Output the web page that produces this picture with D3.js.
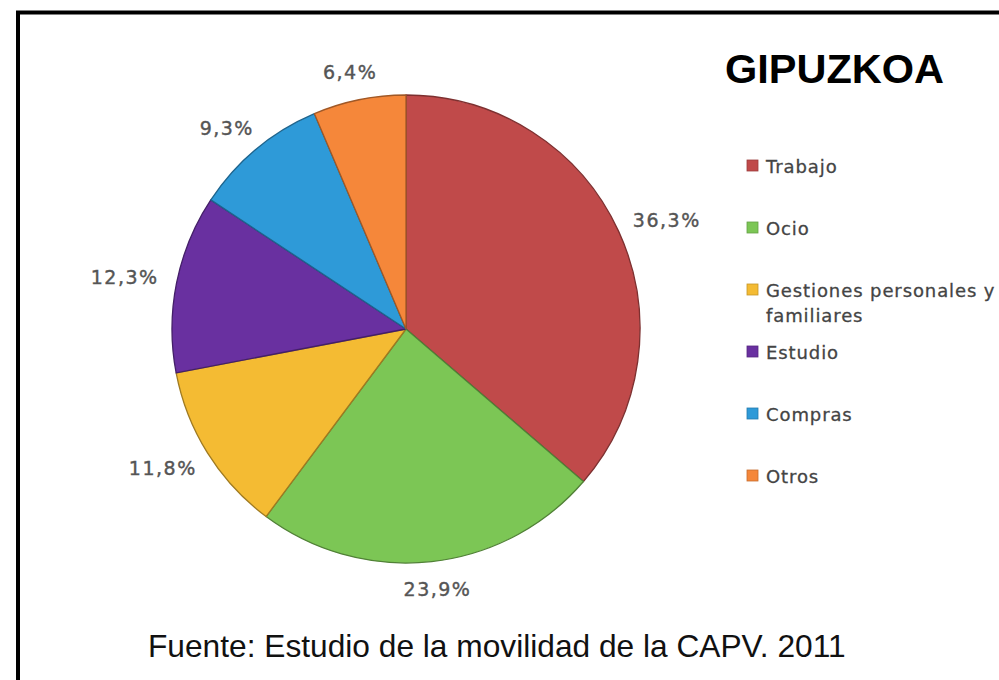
<!DOCTYPE html>
<html>
<head>
<meta charset="utf-8">
<script src="https://cdn.jsdelivr.net/npm/d3@7"></script>
<style>
body { margin: 0; background: #fff; }
</style>
</head>
<body>
<svg id="pie_chart" width="999" height="680"></svg>
<script>
// valores del gráfico
var categories = ["Trabajo", "Ocio", "Gestiones personales y familiares", "Estudio", "Compras", "Otros"];
var values = [36.3, 23.9, 11.8, 12.3, 9.3, 6.4];
var legendLines = [["Trabajo"], ["Ocio"], ["Gestiones personales y", "familiares"], ["Estudio"], ["Compras"], ["Otros"]];
var colors = ["#c04a4a", "#7cc655", "#f4bb33", "#6930a0", "#2e9ad8", "#f5873a"];

var title = "GIPUZKOA";
var source = "Fuente: Estudio de la movilidad de la CAPV. 2011";

function pie_chart() {
	var data = categories.map((c, i) => ({"Category": c, "Value": values[i], "Color": colors[i], "Lines": legendLines[i]}));

	var svg = d3.select("#pie_chart");

	var cx = 406, cy = 329, radius = 234;

	// marco negro
	svg.append("rect")
	.attr("x", 18)
	.attr("y", 12.5)
	.attr("width", 1000)
	.attr("height", 700)
	.attr("fill", "none")
	.attr("stroke", "#000")
	.attr("stroke-width", 4);

	var pie = d3.pie()
	.sort(null)
	.value(d => d.Value);

	var arc = d3.arc()
	.innerRadius(0)
	.outerRadius(radius);

	var arcs = pie(data);

	var g = svg.append("g")
	.attr("transform", `translate(${cx},${cy})`);

	g.selectAll(".slice")
	.data(arcs)
	.enter().append("path")
	.attr("class", "slice")
	.attr("d", arc)
	.attr("fill", d => d.data.Color)
	.attr("stroke", d => d3.color(d.data.Color).darker(1.2))
	.attr("stroke-width", 1.3)
	.attr("stroke-linejoin", "round");

	// etiquetas de porcentaje
	var fmt = d3.format(".1f");
	var pad = 19, hh = 9;

	var labels = g.selectAll(".labels")
	.data(arcs)
	.enter().append("text")
	.attr("class", "labels")
	.attr("text-anchor", "middle")
	.attr("dominant-baseline", "central")
	.style("font-family", "'DejaVu Sans', Verdana, sans-serif")
	.style("font-size", "19px")
	.style("letter-spacing", "1.5px")
	.attr("fill", "#555")
	.attr("stroke", "#555")
	.attr("stroke-width", 0.4)
	.text(d => fmt(d.data.Value).replace(".", ",") + "%");

	labels.each(function(d) {
		var a = (d.startAngle + d.endAngle) / 2;
		var hw = this.getComputedTextLength() / 2;
		var s = Math.sin(a), c = -Math.cos(a);
		var x = s * (radius + pad) + s * hw;
		var y = c * (radius + pad) + c * hh;
		d3.select(this).attr("x", x).attr("y", y);
	});

	// leyenda
	var legend = svg.selectAll(".legend")
	.data(data)
	.enter().append("g")
	.attr("class", "legend")
	.attr("transform", (d, i) => `translate(747,${166 + i * 62})`);

	legend.append("rect")
	.attr("x", 0)
	.attr("y", -6)
	.attr("width", 11)
	.attr("height", 11)
	.attr("fill", d => d.Color)
	.attr("stroke", d => d3.color(d.Color).darker(0.6))
	.attr("stroke-width", 0.8);

	legend.append("text")
	.attr("x", 19)
	.attr("y", 0)
	.style("font-family", "'DejaVu Sans', Verdana, sans-serif")
	.style("font-size", "18px")
	.style("letter-spacing", "0.9px")
	.attr("fill", "#444")
	.attr("stroke", "#444")
	.attr("stroke-width", 0.3)
	.selectAll("tspan")
	.data(d => d.Lines)
	.enter().append("tspan")
	.attr("x", 19)
	.attr("y", (d, i) => i * 25)
	.attr("dominant-baseline", "central")
	.text(d => d);

	svg.append("text")
	.attr("x", 725)
	.attr("y", 83)
	.style("font-family", "'Liberation Sans', Arial, sans-serif")
	.style("font-weight", "bold")
	.style("font-size", "41.5px")
	.attr("fill", "#000")
	.text(title);

	svg.append("text")
	.attr("x", 148)
	.attr("y", 657)
	.style("font-family", "'Liberation Sans', Arial, sans-serif")
	.style("font-size", "31.7px")
	.attr("fill", "#111")
	.text(source);
}

pie_chart();
</script>
</body>
</html>
